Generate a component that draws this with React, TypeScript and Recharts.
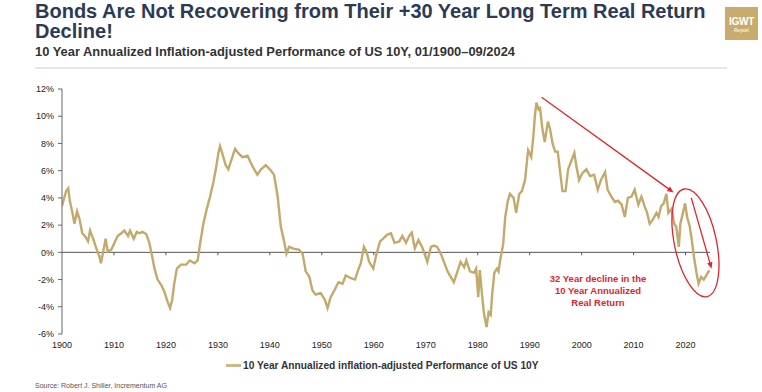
import React from 'react';
import { LineChart, Line, XAxis, YAxis, ReferenceLine, ReferenceDot } from 'recharts';

const years = [
  1900.0, 1900.5, 1900.8, 1901.2, 1901.5, 1902.0, 1902.4, 1902.9, 1903.4, 1903.9,
  1904.4, 1905.0, 1905.4, 1906.0, 1906.6, 1907.2, 1907.5, 1908.0, 1908.4, 1908.8,
  1909.5, 1910.1, 1910.7, 1911.4, 1912.0, 1912.7, 1913.1, 1913.8, 1914.4, 1914.9,
  1915.5, 1916.2, 1916.8, 1917.3, 1917.8, 1918.4, 1919.1, 1919.7, 1920.3, 1920.8,
  1921.2, 1921.6, 1922.1, 1922.9, 1923.9, 1924.6, 1925.5, 1926.1, 1926.6, 1927.2,
  1927.8, 1928.5, 1929.1, 1929.6, 1930.1, 1930.4, 1930.9, 1931.5, 1932.0, 1932.6,
  1933.3, 1933.9, 1934.7, 1935.7, 1936.3, 1936.7, 1937.6, 1938.3, 1939.2, 1940.0,
  1940.8, 1941.5, 1942.1, 1942.8, 1943.2, 1943.7, 1944.7, 1945.6, 1946.3, 1946.9,
  1947.6, 1948.2, 1948.8, 1949.8, 1950.6, 1951.1, 1951.7, 1952.4, 1953.2, 1954.0,
  1954.6, 1955.6, 1956.4, 1956.9, 1957.5, 1958.1, 1958.6, 1959.1, 1959.9, 1960.4,
  1961.2, 1961.8, 1962.6, 1963.3, 1964.0, 1964.9, 1965.5, 1966.2, 1966.8, 1967.3,
  1967.9, 1968.6, 1969.4, 1970.3, 1971.0, 1971.6, 1972.2, 1972.9, 1973.5, 1974.2,
  1974.8, 1975.4, 1976.1, 1976.7, 1977.4, 1977.8, 1978.5, 1979.3, 1979.7, 1980.1,
  1980.4, 1980.8, 1981.2, 1981.7, 1982.1, 1982.5, 1982.8, 1983.2, 1983.7, 1984.0,
  1984.4, 1984.9, 1985.3, 1985.8, 1986.2, 1986.9, 1987.4, 1988.0, 1988.5, 1989.1,
  1989.7, 1990.3, 1990.7, 1991.0, 1991.3, 1991.7, 1992.0, 1992.4, 1992.9, 1993.5,
  1993.9, 1994.4, 1994.9, 1995.4, 1995.8, 1996.3, 1996.9, 1997.4, 1998.1, 1998.6,
  1999.0, 1999.5, 2000.1, 2000.9, 2001.6, 2002.4, 2003.1, 2003.7, 2004.5, 2005.0,
  2005.7, 2006.4, 2007.0, 2007.7, 2008.3, 2008.9, 2009.6, 2010.2, 2010.9, 2011.5,
  2012.1, 2012.6, 2013.1, 2013.7, 2014.4, 2014.8, 2015.3, 2015.8, 2016.3, 2016.7,
  2017.3, 2017.8, 2018.2, 2018.7, 2019.0, 2019.5, 2019.9, 2020.3, 2020.8, 2021.2,
  2021.6, 2022.1, 2022.5, 2023.0, 2023.5, 2024.0, 2024.4, 2024.7,
];

const realReturn = [
  3.4, 4.1, 4.5, 4.7, 3.8, 2.9, 2.1, 3.0, 2.4, 1.4,
  1.2, 0.8, 1.6, 1.0, 0.3, -0.3, -0.8, 0.2, 1.0, 0.05,
  0.2, 0.7, 1.2, 1.4, 1.6, 1.2, 1.6, 1.0, 1.5, 1.4,
  1.5, 1.35, 0.7, -0.2, -1.2, -2.0, -2.4, -2.9, -3.6, -4.1,
  -3.5, -2.3, -1.2, -0.9, -0.9, -0.6, -0.8, -0.6, 0.7, 2.1,
  3.1, 4.1, 5.1, 6.1, 7.3, 7.8, 7.2, 6.4, 6.1, 6.8,
  7.6, 7.3, 7.0, 7.1, 6.6, 6.3, 5.7, 6.1, 6.4, 6.1,
  5.7, 4.1, 1.9, 0.7, -0.1, 0.4, 0.25, 0.2, -0.1, -1.4,
  -1.8, -2.8, -3.1, -3.0, -3.5, -4.1, -3.3, -2.8, -2.2, -2.3,
  -1.7, -1.9, -2.0, -1.4, -0.8, 0.4, 0.05, -0.7, -1.2, -0.3,
  0.8, 1.0, 1.3, 1.4, 0.7, 0.8, 1.2, 0.7, 1.2, 1.45,
  0.3, 0.9, 0.3, -0.7, 0.4, 0.5, 0.4, -0.1, -0.7, -1.4,
  -1.8, -2.2, -1.4, -0.7, -1.1, -0.6, -1.4, -1.5, -1.2, -3.3,
  -1.3, -3.0, -4.5, -5.5, -4.4, -4.6, -3.0, -1.5, -1.2, -1.4,
  -0.4, 0.6, 2.6, 3.8, 4.3, 4.0, 2.9, 4.3, 4.5, 5.3,
  7.5, 7.0, 8.5, 10.0, 11.0, 10.5, 10.6, 9.2, 8.1, 9.6,
  9.1, 8.0, 7.4, 7.4, 6.1, 4.5, 4.5, 6.1, 6.8, 7.3,
  6.3, 5.3, 5.8, 6.1, 5.6, 5.7, 4.6, 5.3, 5.9, 4.6,
  4.1, 3.7, 3.8, 3.5, 2.6, 4.0, 4.1, 4.6, 3.5, 4.1,
  3.4, 2.9, 2.1, 2.4, 2.9, 2.6, 3.4, 3.6, 4.3, 2.9,
  3.2, 2.1, 1.9, 0.4, 2.1, 2.9, 3.6, 2.6, 1.9, 0.9,
  -0.3, -1.5, -2.3, -1.8, -2.0, -1.7, -1.4, -1.4,
];

const yearTicks = [1900, 1910, 1920, 1930, 1940, 1950, 1960, 1970, 1980, 1990, 2000, 2010, 2020];
const pctTicks = [-6, -4, -2, 0, 2, 4, 6, 8, 10, 12];
const START = 1900;
const END = 2024.7;

// annotation anchors (data coordinates)
const longArrow = [{ x: 1992.3, y: 11.4 }, { x: 2017.7, y: 4.4 }];
const shortArrow = [{ x: 2021.1, y: 4.0 }, { x: 2025.0, y: -1.2 }];
const circleCenter = { x: 2021.9, y: 0.7 };

const chartData = years.map((year, i) => ({ year, value: realReturn[i] }));

const GOLD = '#c4a96c';
const RED = '#e1262b';
const SANS = "'Liberation Sans', Arial, sans-serif";

// zero line acting as x axis, with small decade ticks
function ZeroAxis(props: any) {
  const { x1, y1, x2 } = props;
  const w = x2 - x1;
  return (
    <g>
      <line x1={x1} y1={y1} x2={x2} y2={y1} stroke="#555" strokeWidth={1} />
      {yearTicks.slice(1).map((t) => {
        const x = x1 + ((t - START) / (END - START)) * w;
        return <line key={t} x1={x} y1={y1} x2={x} y2={y1 + 3} stroke="#555" strokeWidth={1} />;
      })}
    </g>
  );
}

function Arrow(props: any) {
  const { x1, y1, x2, y2 } = props;
  const ang = Math.atan2(y2 - y1, x2 - x1);
  const len = 7;
  const spread = 0.4;
  const ax = x2 - len * Math.cos(ang - spread);
  const ay = y2 - len * Math.sin(ang - spread);
  const bx = x2 - len * Math.cos(ang + spread);
  const by = y2 - len * Math.sin(ang + spread);
  return (
    <g>
      <line x1={x1} y1={y1} x2={x2 - 4 * Math.cos(ang)} y2={y2 - 4 * Math.sin(ang)} stroke={RED} strokeWidth={1.3} />
      <polygon points={`${x2},${y2} ${ax},${ay} ${bx},${by}`} fill={RED} />
    </g>
  );
}

function Oval(props: any) {
  const { cx, cy } = props;
  return (
    <ellipse
      cx={cx}
      cy={cy}
      rx={21}
      ry={55}
      fill="none"
      stroke={RED}
      strokeWidth={1.3}
      transform={`rotate(-12 ${cx} ${cy})`}
    />
  );
}

export default function App() {
  return (
    <div style={{ position: 'absolute', left: 0, top: 0, width: 762, height: 392, background: '#fff', overflow: 'hidden' }}>
      <div style={{ position: 'absolute', left: 35, top: 1, fontFamily: SANS, fontWeight: 700, fontSize: 20, lineHeight: '20px', color: '#2c3b55', whiteSpace: 'nowrap' }}>
        Bonds Are Not Recovering from Their +30 Year Long Term Real Return
        <br />
        Decline!
      </div>
      <div style={{ position: 'absolute', left: 35, top: 44, fontFamily: SANS, fontWeight: 700, fontSize: 12.9, color: '#333', whiteSpace: 'nowrap' }}>
        10 Year Annualized Inflation-adjusted Performance of US 10Y, 01/1900–09/2024
      </div>
      <div style={{ position: 'absolute', left: 35, top: 67, width: 692, height: 2, background: '#e8e6df' }} />
      <div style={{ position: 'absolute', left: 725, top: 7, width: 33, height: 33, background: '#c9ab6d', color: '#fff', fontFamily: SANS, textAlign: 'center' }}>
        <div style={{ fontSize: 10, fontWeight: 700, lineHeight: '10px', marginTop: 10, letterSpacing: -0.3 }}>IGWT</div>
        <div style={{ fontSize: 5, lineHeight: '6px' }}>Report</div>
      </div>

      <div style={{ position: 'absolute', left: 0, top: 0 }}>
        <LineChart width={762} height={392} data={chartData} margin={{ top: 89, right: 52, bottom: 38, left: 22 }}>
          <XAxis
            dataKey="year"
            type="number"
            domain={[START, END]}
            ticks={yearTicks}
            allowDataOverflow
            axisLine={false}
            tickLine={false}
            tickMargin={2}
            height={20}
            tick={{ fontFamily: SANS, fontSize: 9, fill: '#222' }}
            interval={0}
          />
          <YAxis
            type="number"
            domain={[-6, 12]}
            ticks={pctTicks}
            tickFormatter={(v: number) => `${v}%`}
            width={40}
            interval={0}
            axisLine={{ stroke: '#666' }}
            tickLine={{ stroke: '#666' }}
            tickSize={4}
            tickMargin={4}
            tick={{ fontFamily: SANS, fontSize: 9, fill: '#222' }}
          />
          <ReferenceLine y={0} shape={ZeroAxis} />
          <Line
            type="linear"
            dataKey="value"
            stroke={GOLD}
            strokeWidth={2.4}
            dot={false}
            isAnimationActive={false}
          />
          <ReferenceLine segment={longArrow} shape={Arrow} ifOverflow="visible" />
          <ReferenceLine segment={shortArrow} shape={Arrow} ifOverflow="visible" />
          <ReferenceDot x={circleCenter.x} y={circleCenter.y} shape={Oval} ifOverflow="visible" />
        </LineChart>
      </div>

      <div style={{ position: 'absolute', left: 538, top: 273, width: 120, textAlign: 'center', fontFamily: SANS, fontWeight: 700, fontSize: 9.5, lineHeight: '12px', color: RED, whiteSpace: 'nowrap' }}>
        32 Year decline in the
        <br />
        10 Year Annualized
        <br />
        Real Return
      </div>

      <div style={{ position: 'absolute', left: 226, top: 360, display: 'flex', alignItems: 'center', fontFamily: SANS, fontWeight: 700, fontSize: 10.2, color: '#333', whiteSpace: 'nowrap' }}>
        <span style={{ display: 'inline-block', width: 15, height: 3, background: '#cdb98c', marginRight: 2 }} />
        10 Year Annualized inflation-adjusted Performance of US 10Y
      </div>
      <div style={{ position: 'absolute', left: 35, top: 382, fontFamily: SANS, fontSize: 7, color: '#555', whiteSpace: 'nowrap' }}>
        Source: Robert J. Shiller, Incrementum AG
      </div>
    </div>
  );
}
